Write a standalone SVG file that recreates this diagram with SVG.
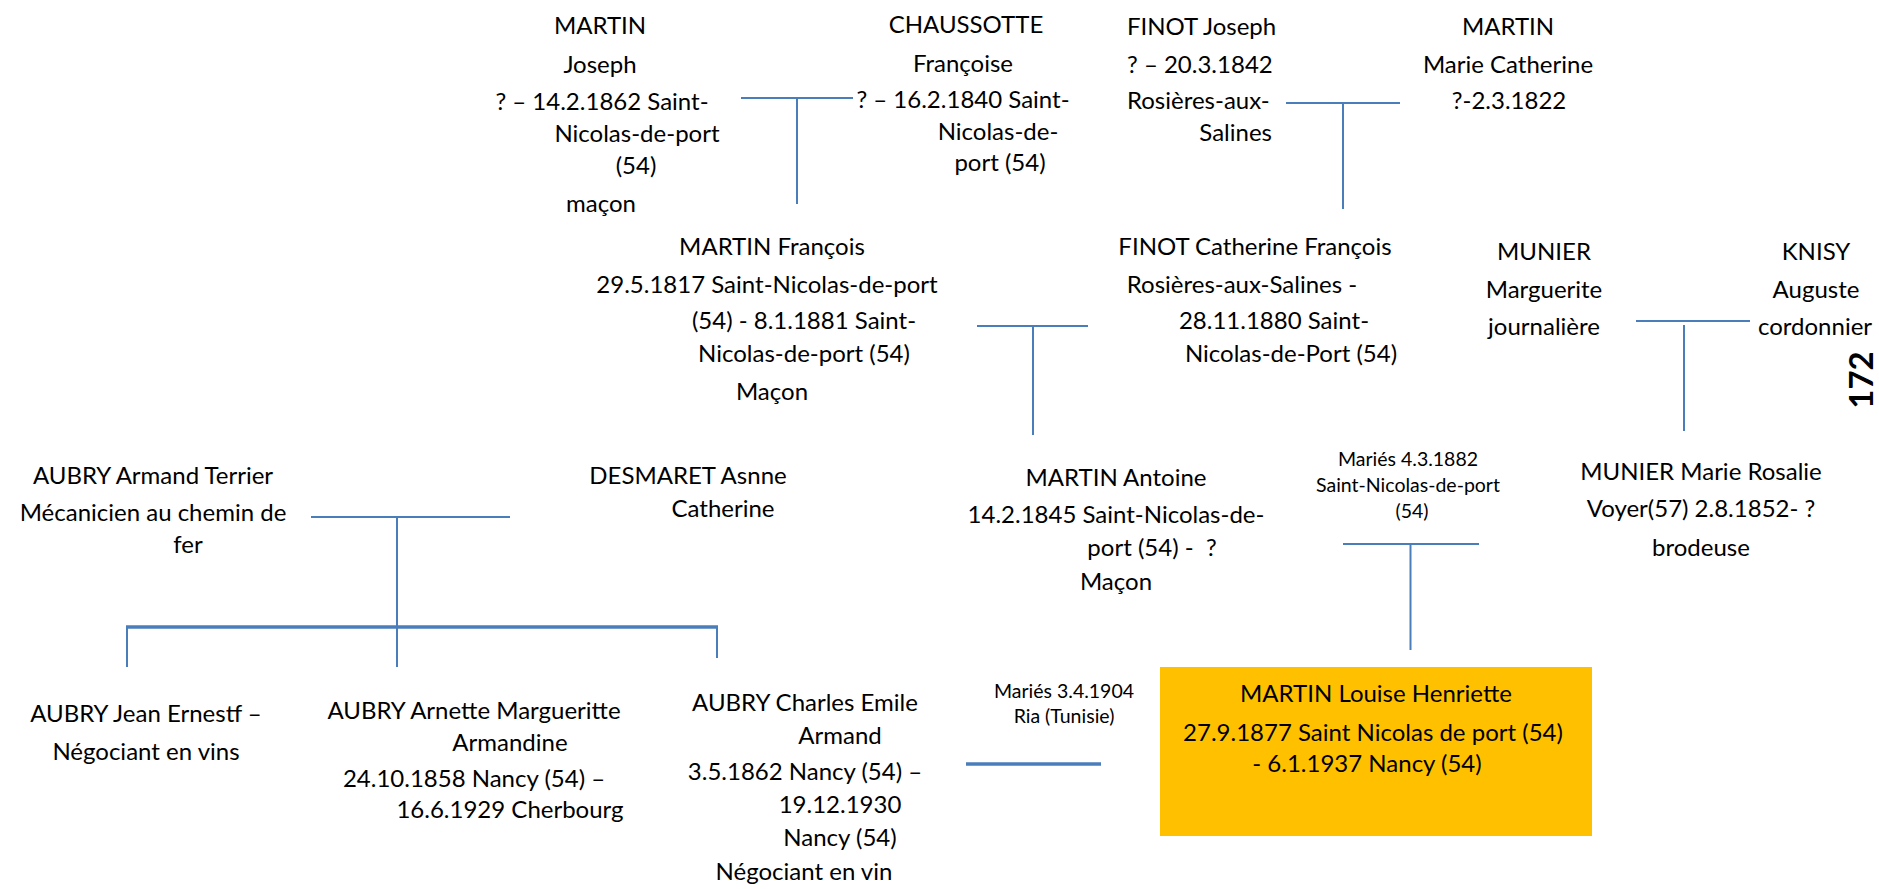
<svg xmlns="http://www.w3.org/2000/svg" width="1879" height="889" viewBox="0 0 1879 889">
<style>
text { font-family: Lato, "Liberation Sans", sans-serif; font-size: 24px; fill: #000; text-anchor: middle; }
.s { font-size: 19.5px; }
.st { text-anchor: start; }
.en { text-anchor: end; }
.pg { font-size: 33px; font-weight: bold; }
.c { stroke: #4A7EBB; stroke-width: 2; fill: none; }
.k { stroke-width: 3.5; }
.box { fill: #FFC000; }
</style>
<rect width="1879" height="889" fill="#fff"/>
<g id="connectors">
  <path class="c" d="M741 98 H853 M797 98 V204"/>
  <path class="c" d="M1286 103 H1400 M1343 103 V209"/>
  <path class="c" d="M977 326 H1088 M1033 326 V435"/>
  <path class="c" d="M1636 321 H1750 M1684 325 V431"/>
  <path class="c" d="M311 517 H510 M397 517 V627"/>
  <path class="c k" d="M126 627 H718"/>
  <path class="c" d="M127 627 V667 M397 627 V667 M717 627 V658"/>
  <path class="c" d="M1343 544 H1479 M1410.5 544 V650"/>
  <path class="c k" d="M966 764 H1101"/>
</g>
<g id="n-martin-joseph">
  <text x="600" y="34">MARTIN</text>
  <text x="600" y="73">Joseph</text>
  <text x="602" y="110">? – 14.2.1862 Saint-</text>
  <text x="637" y="142">Nicolas-de-port</text>
  <text x="636" y="174">(54)</text>
  <text x="601" y="212">maçon</text>
</g>
<g id="n-chaussotte-francoise">
  <text x="966" y="33">CHAUSSOTTE</text>
  <text x="963" y="72">Françoise</text>
  <text x="963" y="108">? – 16.2.1840 Saint-</text>
  <text x="998" y="140">Nicolas-de-</text>
  <text x="1000" y="171">port (54)</text>
</g>
<g id="n-finot-joseph">
  <text class="st" x="1127" y="35">FINOT Joseph</text>
  <text class="st" x="1127" y="73">? – 20.3.1842</text>
  <text class="st" x="1127" y="109">Rosières-aux-</text>
  <text class="en" x="1272" y="141">Salines</text>
</g>
<g id="n-martin-marie-catherine">
  <text x="1508" y="35">MARTIN</text>
  <text x="1508" y="73">Marie Catherine</text>
  <text x="1509" y="109">?-2.3.1822</text>
</g>
<g id="n-martin-francois">
  <text x="772" y="255">MARTIN François</text>
  <text x="767" y="293">29.5.1817 Saint-Nicolas-de-port</text>
  <text x="804" y="329">(54) - 8.1.1881 Saint-</text>
  <text x="804" y="362">Nicolas-de-port (54)</text>
  <text x="772" y="400">Maçon</text>
</g>
<g id="n-finot-catherine">
  <text x="1255" y="255">FINOT Catherine François</text>
  <text x="1242" y="293">Rosières-aux-Salines -</text>
  <text x="1274" y="329">28.11.1880 Saint-</text>
  <text x="1291" y="362">Nicolas-de-Port (54)</text>
</g>
<g id="n-munier-marguerite">
  <text x="1544" y="260">MUNIER</text>
  <text x="1544" y="298">Marguerite</text>
  <text x="1544" y="335">journalière</text>
</g>
<g id="n-knisy-auguste">
  <text x="1816" y="260">KNISY</text>
  <text x="1816" y="298">Auguste</text>
  <text x="1815" y="335">cordonnier</text>
</g>
<g id="page-number">
  <text class="pg" transform="translate(1873,380) rotate(-90)">172</text>
</g>
<g id="n-aubry-armand">
  <text x="153" y="484">AUBRY Armand Terrier</text>
  <text x="153" y="521">Mécanicien au chemin de</text>
  <text x="188" y="553">fer</text>
</g>
<g id="n-desmaret-asnne">
  <text x="688" y="484">DESMARET Asnne</text>
  <text x="723" y="517">Catherine</text>
</g>
<g id="n-martin-antoine">
  <text x="1116" y="486">MARTIN Antoine</text>
  <text x="1116" y="523">14.2.1845 Saint-Nicolas-de-</text>
  <text x="1152" y="556" xml:space="preserve">port (54) -  ?</text>
  <text x="1116" y="590">Maçon</text>
</g>
<g id="label-maries-1882">
  <text class="s" x="1408" y="466">Mariés 4.3.1882</text>
  <text class="s" x="1408" y="492">Saint-Nicolas-de-port</text>
  <text class="s" x="1412" y="518">(54)</text>
</g>
<g id="n-munier-marie-rosalie">
  <text x="1701" y="480">MUNIER Marie Rosalie</text>
  <text x="1701" y="517">Voyer(57) 2.8.1852- ?</text>
  <text x="1701" y="556">brodeuse</text>
</g>
<g id="n-aubry-jean">
  <text x="146" y="722">AUBRY Jean Ernestf –</text>
  <text x="146" y="760">Négociant en vins</text>
</g>
<g id="n-aubry-arnette">
  <text x="474" y="719">AUBRY Arnette Margueritte</text>
  <text x="510" y="751">Armandine</text>
  <text x="474" y="787">24.10.1858 Nancy (54) –</text>
  <text x="510" y="818">16.6.1929 Cherbourg</text>
</g>
<g id="n-aubry-charles">
  <text x="805" y="711">AUBRY Charles Emile</text>
  <text x="840" y="744">Armand</text>
  <text x="805" y="780">3.5.1862 Nancy (54) –</text>
  <text x="840" y="813">19.12.1930</text>
  <text x="840" y="846">Nancy (54)</text>
  <text x="804" y="880">Négociant en vin</text>
</g>
<g id="label-maries-1904">
  <text class="s" x="1064" y="698">Mariés 3.4.1904</text>
  <text class="s" x="1064" y="723">Ria (Tunisie)</text>
</g>
<g id="n-martin-louise">
  <rect class="box" x="1160" y="667" width="432" height="169"/>
  <text x="1376" y="702">MARTIN Louise Henriette</text>
  <text x="1373" y="741">27.9.1877 Saint Nicolas de port (54)</text>
  <text x="1367" y="772">- 6.1.1937 Nancy (54)</text>
</g>
</svg>
